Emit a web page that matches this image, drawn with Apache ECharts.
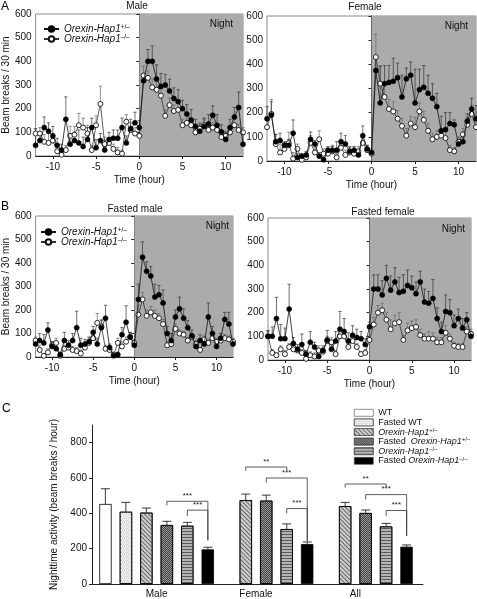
<!DOCTYPE html>
<html><head><meta charset="utf-8">
<script src="https://cdn.jsdelivr.net/npm/echarts@6/dist/echarts.min.js"></script>
<style>html,body{margin:0;padding:0;background:#fff}#c{width:477px;height:599px}</style>
</head><body><div id="c"></div>
<script>
const FONT = '"Liberation Sans", Arial, Helvetica, sans-serif';

// ---------- time-course data (30-min bins, hours relative to lights off) ----------
const times = [-12,-11.5,-11,-10.5,-10,-9.5,-9,-8.5,-8,-7.5,-7,-6.5,-6,-5.5,-5,-4.5,-4,-3.5,-3,-2.5,-2,-1.5,-1,-0.5,0,0.5,1,1.5,2,2.5,3,3.5,4,4.5,5,5.5,6,6.5,7,7.5,8,8.5,9,9.5,10,10.5,11,11.5,12];
const timeTicks = [-10,-5,0,5,10];

// A: Male
const maleHet    = [45,65,120,105,85,45,25,155,50,65, 55,40,70,120,35,65,25,70,75,75, 120,55,115,140,120, 318,400,400,325,294,300,275,243,230,200, 177,152,125,105,125,135,172,130,102,70, 120,165,205,50];
const maleHetErr = [70,30,45,35,40,30,25,95,30,35, 55,40,50,40,35,30,40,30,35,35, 40,30,40,45,30, 30,50,65,60,55,45,50,45,50,35, 40,45,30,30,35,40,40,45,30,30, 35,40,65,40];
const maleKo     = [95,95,60,55,65,20,5,25,85,90, 130,120,95,25,130,220,50,55,30,15, 10,145,110,95,85, 340,330,290,280,255,170,215,190,195,130, 140,130,100,115,130,110,120,110,80,85, 100,130,110,100];
const maleKoErr  = [20,25,30,40,30,20,15,20,40,35, 50,40,35,20,40,75,30,20,20,20, 15,30,30,25,20, 40,30,35,35,30,25,30,25,25,25, 20,25,20,25,25,20,20,20,15,20, 20,25,25,20];
// A: Female
const femHet     = [175,190,80,85,65,65,115,15,20,25, 90,70,20,5,45,45,45,80,70,40, 45,25,105,50,35, 375,240,320,325,330,345,265,340,355,240, 295,305,280,260,225,125,130,155,150,70, 80,165,215,175];
const femHetErr  = [50,55,30,30,15,25,55,15,10,15, 30,15,15,10,15,15,35,35,35,20, 15,15,40,15,15, 55,150,75,70,95,60,90,45,55,140, 85,90,75,60,55,60,70,45,20,20, 20,30,45,55];
const femKo      = [140,195,70,35,50,75,10,50,5,15, 75,35,90,30,30,40,15,55,25,35, 30,40,75,45,30, 430,320,265,215,205,175,145,105,155,140, 205,170,125,90,100,105,95,45,40,80, 110,150,195,140];
const femKoErr   = [40,60,40,35,25,45,25,20,15,15, 30,20,35,20,20,25,15,25,20,20, 15,20,30,20,15, 95,75,60,40,40,35,30,30,30,40, 35,35,30,25,25,25,25,20,15,20, 25,30,35,20];
// B: Fasted male
const fMaleHet    = [55,70,60,115,45,35,10,70,50,70, 125,50,55,65,105,55,125,165,40,5, 10,95,148,85,50, 245,425,365,345,255,265,230,100,70,170, 205,165,125,90,45,70,55,170,100,45, 80,160,140,55];
const fMaleHetErr = [20,30,35,30,20,20,10,35,20,30, 70,30,20,20,25,25,30,55,15,10, 10,30,70,20,15, 65,65,40,40,55,40,55,30,30,30, 50,40,30,25,20,25,25,60,30,20, 20,30,50,15];
const fMaleKo     = [70,30,5,20,50,60,5,35,40,30, 25,15,40,60,80,145,130,35,30,10, 60,45,65,85,60, 180,245,175,190,175,165,140,50,55,120, 100,95,70,85,55,30,75,60,80,65, 70,80,75,65];
const fMaleKoErr  = [15,20,10,15,15,20,10,15,20,15, 15,15,20,20,25,40,30,15,15,10, 20,20,20,20,15, 40,30,25,25,25,20,20,15,15,20, 15,15,15,15,15,10,15,15,15,15, 15,15,15,15];
// B: Fasted female
const fFemHet     = [100,100,175,90,90,215,70,45,65,25, 75,55,15,40,85,45,80,130,120,80, 105,95,90,65,140, 300,300,275,345,295,330,285,290,315,305, 280,330,245,240,260,175,120,205,200,145, 175,135,170,100];
const fFemHetErr  = [25,40,90,60,45,105,25,20,45,15, 45,20,15,20,40,25,40,75,55,35, 40,35,30,25,20, 60,60,60,55,60,60,65,70,65,50, 50,45,55,50,80,45,40,70,55,45, 40,40,30,20];
const fFemKo      = [100,30,20,45,25,55,45,40,30,5, 20,15,40,35,80,75,25,100,100,55, 80,55,25,30,85, 150,200,210,170,130,155,160,85,125,135, 140,105,90,90,90,75,75,115,90,60, 55,55,120,110];
const fFemKoErr   = [20,15,10,15,15,15,20,15,15,10, 15,15,20,15,20,20,15,25,30,20, 20,15,10,15,20, 30,30,30,30,40,35,40,20,30,30, 30,25,20,30,25,20,20,30,20,15, 15,15,20,20];

// ---------- C: nighttime activity ----------
const barCats   = ['Male','Female','All'];
const actTicks  = [0,200,400,600,800];
const wtAct     = [453, null, null];  const wtErr   = [86, null, null];
const fwtAct    = [409, null, null];  const fwtErr  = [53, null, null];
const hetAct    = [404, 475, 441];    const hetErr  = [26, 34, 21];
const fhetAct   = [334, 472, 402];    const fhetErr = [21, 31, 17];
const koAct     = [330, 311, 326];    const koErr   = [19, 29, 17];
const fkoAct    = [196, 226, 211];    const fkoErr  = [12, 12, 10];
// significance brackets: [category, fromBar, toBar, level, leftEnd, rightEnd]
const brackets = [
  [1,3,5,468,444,247],[1,4,5,418,384,247],
  [2,2,4,662,641,641],[2,3,5,600,574,244],[2,4,5,427,399,244],
  [3,2,4,566,546,546],[3,3,5,506,478,272],[3,4,5,416,384,272]
];
const bracketLabels = ['***','***','**','***','***','**','***','***'];

// ---------- option building ----------
const BAR_STEP = 20.5;
function richSup(fs) {
  return {
    i: {fontStyle:'italic', fontSize:fs, fontFamily:FONT, color:'#111', lineHeight:9.6},
    s: {fontSize:fs*0.65, fontFamily:FONT, color:'#111', verticalAlign:'top', lineHeight:9.6}
  };
}
const labelMap = {
  'HET':'{i|Orexin-Hap1}{s|+/–}', 'KO':'{i|Orexin-Hap1}{s|–/–}',
  'WT':'WT', 'Fasted WT':'Fasted WT',
  'Orexin-Hap1 +/–':'{i|Orexin-Hap1}{s|+/–}',
  'Fasted Orexin-Hap1 +/–':'Fasted  {i|Orexin-Hap1}{s|+/–}',
  'Orexin-Hap1 –/–':'{i|Orexin-Hap1}{s|–/–}',
  'Fasted Orexin-Hap1 –/–':'Fasted {i|Orexin-Hap1}{s|–/–}'
};

const panels = [
  {grid:{left:35,top:14,width:208,height:142}, het:maleHet, hetErr:maleHetErr, ko:maleKo, koErr:maleKoErr, yName:true, yGap:23, night:[-5,0]},
  {grid:{left:267,top:16,width:209,height:145}, het:femHet, hetErr:femHetErr, ko:femKo, koErr:femKoErr, yName:false, night:[-3,0]},
  {grid:{left:30,top:216,width:203,height:141}, het:fMaleHet, hetErr:fMaleHetErr, ko:fMaleKo, koErr:fMaleKoErr, yName:true, yGap:20, night:[1,0]},
  {grid:{left:268,top:218,width:203,height:142}, het:fFemHet, hetErr:fFemHetErr, ko:fFemKo, koErr:fFemKoErr, yName:false, night:[-1,1]}
];

function errRenderer(col, half) {
  return function(params, api) {
    const x = api.value(0), y = api.value(1), e = api.value(2);
    const a = api.coord([x, y]), b = api.coord([x, y + e]);
    return {type:'group', children:[
      {type:'line', shape:{x1:a[0],y1:a[1],x2:b[0],y2:b[1]}, style:{stroke:col,lineWidth:0.7}},
      {type:'line', shape:{x1:b[0]-half,y1:b[1],x2:b[0]+half,y2:b[1]}, style:{stroke:col,lineWidth:0.7}}
    ]};
  };
}

const grids = [], xAxes = [], yAxes = [], series = [];
panels.forEach((p, k) => {
  grids.push(Object.assign({show:true, borderColor:'#8a8a8a', borderWidth:1, backgroundColor:'transparent'}, p.grid));
  xAxes.push({type:'value', gridIndex:k, min:-12, max:12,
    name:'Time (hour)', nameLocation:'middle', nameGap:19, nameTextStyle:{fontSize:10, color:'#111', fontFamily:FONT},
    axisLine:{show:true, onZero:false, lineStyle:{color:'#222', width:1}},
    axisTick:{show:true, customValues:timeTicks, length:3, lineStyle:{color:'#222'}},
    axisLabel:{customValues:timeTicks, fontSize:10, color:'#111', margin:6, fontFamily:FONT},
    splitLine:{show:false}});
  yAxes.push({type:'value', gridIndex:k, min:0, max:600, interval:100,
    name: p.yName ? 'Beam breaks / 30 min' : '', nameLocation:'middle', nameGap:p.yGap || 20,
    nameTextStyle:{fontSize:10, color:'#111', fontFamily:FONT},
    axisLine:{show:true, lineStyle:{color:'#222', width:1}},
    axisTick:{show:true, length:3, lineStyle:{color:'#222'}},
    axisLabel:{fontSize:10, color:'#111', margin:4, fontFamily:FONT},
    splitLine:{show:false}});
  series.push({type:'custom', xAxisIndex:k, yAxisIndex:k, z:2, silent:true, clip:false,
    data: times.map((t,i)=>[t, p.ko[i], p.koErr[i]]), renderItem: errRenderer('#666', 1.7)});
  series.push({type:'custom', xAxisIndex:k, yAxisIndex:k, z:2, silent:true, clip:false,
    data: times.map((t,i)=>[t, p.het[i], p.hetErr[i]]), renderItem: errRenderer('#333', 1.7)});
  series.push({type:'line', name:'KO', xAxisIndex:k, yAxisIndex:k, z:3,
    data: times.map((t,i)=>[t, p.ko[i]]), symbol:'circle', symbolSize:5, showAllSymbol:true,
    lineStyle:{color:'#333', width:0.8}, itemStyle:{color:'#fff', borderColor:'#111', borderWidth:0.9},
    emphasis:{disabled:true},
    markArea:{silent:true, itemStyle:{color:'#ababab'},
      label:{show:true, position:'insideTopRight', color:'#111', fontSize:10, fontFamily:FONT, offset:p.night},
      data:[[{name:'Night', xAxis:0},{xAxis:12}]]}});
  series.push({type:'line', name:'HET', xAxisIndex:k, yAxisIndex:k, z:4,
    data: times.map((t,i)=>[t, p.het[i]]), symbol:'circle', symbolSize:5, showAllSymbol:true,
    lineStyle:{color:'#111', width:0.8}, itemStyle:{color:'#000', borderColor:'#000', borderWidth:0.6},
    emphasis:{disabled:true}});
});

// panel C
const kC = 4;
grids.push({left:92, top:425, width:331, height:160, show:false});
xAxes.push({type:'value', gridIndex:kC, min:0.35, max:3.68,
  axisLine:{show:true, onZero:false, lineStyle:{color:'#222', width:1}},
  axisTick:{show:false},
  axisLabel:{customValues:[1,2,3], formatter: v => barCats[Math.round(v)-1] || '', fontSize:10, color:'#111', margin:5, fontFamily:FONT},
  splitLine:{show:false}});
yAxes.push({type:'value', gridIndex:kC, min:0, max:900,
  name:'Nighttime activity (beam breaks / hour)', nameLocation:'middle', nameGap:33,
  nameTextStyle:{fontSize:10, color:'#111', fontFamily:FONT},
  axisLine:{show:true, lineStyle:{color:'#222', width:1}},
  axisTick:{show:true, customValues:actTicks, length:3, lineStyle:{color:'#222'}},
  axisLabel:{customValues:actTicks, fontSize:10, color:'#111', margin:5, fontFamily:FONT},
  splitLine:{show:false}});

const barDefs = [
  {name:'WT', vals:wtAct, errs:wtErr, color:'#ffffff'},
  {name:'Fasted WT', vals:fwtAct, errs:fwtErr, color:'#ececec',
    decal:{symbol:'rect', symbolSize:1, dashArrayX:[[1,1],[0,1,1,0]], dashArrayY:[1,1], color:'#d2d2d2'}},
  {name:'Orexin-Hap1 +/–', vals:hetAct, errs:hetErr, color:'#cfcfcf',
    decal:{symbol:'rect', symbolSize:1, dashArrayX:[1,0], dashArrayY:[1,1.8], rotation:Math.PI/4, color:'#666'}},
  {name:'Fasted Orexin-Hap1 +/–', vals:fhetAct, errs:fhetErr, color:'#9c9c9c',
    decal:{symbol:'rect', symbolSize:1, dashArrayX:[[1,1],[0,1,1,0]], dashArrayY:[1,0], color:'#3c3c3c'}},
  {name:'Orexin-Hap1 –/–', vals:koAct, errs:koErr, color:'#b4b4b4',
    decal:{symbol:'rect', symbolSize:1, dashArrayX:[1,0], dashArrayY:[1,1.3], color:'#5a5a5a'}},
  {name:'Fasted Orexin-Hap1 –/–', vals:fkoAct, errs:fkoErr, color:'#000000'}
];
barDefs.forEach((b, idx) => {
  const data = [];
  b.vals.forEach((v, c) => { if (v !== null) data.push([c+1, v]); });
  const is = {color:b.color, borderColor:'#000', borderWidth:0.8};
  if (b.decal) is.decal = b.decal;
  series.push({type:'bar', name:b.name, xAxisIndex:kC, yAxisIndex:kC, data:data,
    barWidth:12.4, barGap:'65%', itemStyle:is, emphasis:{disabled:true}, z:2});
});
// bar error bars
const barErrData = [];
barDefs.forEach((b, idx) => {
  b.vals.forEach((v, c) => { if (v !== null) barErrData.push([c+1, v, b.errs[c], idx]); });
});
series.push({type:'custom', xAxisIndex:kC, yAxisIndex:kC, z:3, silent:true, clip:false, data:barErrData,
  renderItem: function(params, api) {
    const x = api.value(0), y = api.value(1), e = api.value(2), i = api.value(3);
    const a = api.coord([x, y]), b = api.coord([x, y + e]);
    const px = a[0] + (i - 2.5) * BAR_STEP;
    return {type:'group', children:[
      {type:'line', shape:{x1:px,y1:a[1],x2:px,y2:b[1]}, style:{stroke:'#222',lineWidth:0.9}},
      {type:'line', shape:{x1:px-4.5,y1:b[1],x2:px+4.5,y2:b[1]}, style:{stroke:'#222',lineWidth:0.9}}
    ]};
  }});
// significance brackets
series.push({type:'custom', xAxisIndex:kC, yAxisIndex:kC, z:4, silent:true, clip:false, data:brackets,
  renderItem: function(params, api) {
    const c = api.value(0), f = api.value(1), t = api.value(2), lv = api.value(3), le = api.value(4), re = api.value(5);
    const p = api.coord([c, lv]);
    const xl = p[0] + (f - 2.5) * BAR_STEP, xr = p[0] + (t - 2.5) * BAR_STEP;
    const yl = api.coord([c, le])[1], yr = api.coord([c, re])[1];
    return {type:'group', children:[
      {type:'polyline', shape:{points:[[xl,yl],[xl,p[1]],[xr,p[1]],[xr,yr]]}, style:{stroke:'#333', lineWidth:0.8, fill:null}},
      {type:'text', style:{text:bracketLabels[params.dataIndex], x:(xl+xr)/2, y:p[1]-1.5, align:'center', verticalAlign:'bottom', fontSize:8, fontFamily:FONT, fill:'#222'}}
    ]};
  }});

const lineLegendBase = {orient:'vertical', selectedMode:false, itemWidth:15, itemHeight:7, itemGap:0,
  data:['HET','KO'], formatter: n => labelMap[n],
  textStyle:{fontSize:10, color:'#111', fontFamily:FONT, lineHeight:9.6, rich:richSup(10)}};

const option = {
  animation:false,
  backgroundColor:'#fff',
  textStyle:{fontFamily:FONT},
  grid:grids, xAxis:xAxes, yAxis:yAxes, series:series,
  legend:[
    Object.assign({left:38, top:19}, lineLegendBase),
    Object.assign({left:35, top:222}, lineLegendBase),
    {orient:'vertical', selectedMode:false, left:349, top:403, itemWidth:19, itemHeight:7, itemGap:0, icon:'rect',
     itemStyle:{borderWidth:0.6, borderColor:'#444'},
     data:barDefs.map(b=>b.name), formatter: n => labelMap[n],
     textStyle:{fontSize:9, color:'#111', fontFamily:FONT, lineHeight:9.6, rich:richSup(9)}}
  ],
  graphic:[
    {type:'text', x:1, y:1, style:{text:'A', fontSize:12, fontFamily:FONT, fill:'#000'}},
    {type:'text', x:1, y:201, style:{text:'B', fontSize:12, fontFamily:FONT, fill:'#000'}},
    {type:'text', x:2, y:403, style:{text:'C', fontSize:12, fontFamily:FONT, fill:'#000'}},
    {type:'text', x:137, y:6, style:{text:'Male', fontSize:10, fontFamily:FONT, fill:'#111', align:'center', verticalAlign:'middle'}},
    {type:'text', x:365, y:7, style:{text:'Female', fontSize:10, fontFamily:FONT, fill:'#111', align:'center', verticalAlign:'middle'}},
    {type:'text', x:135, y:209, style:{text:'Fasted male', fontSize:10, fontFamily:FONT, fill:'#111', align:'center', verticalAlign:'middle'}},
    {type:'text', x:383, y:212, style:{text:'Fasted female', fontSize:10, fontFamily:FONT, fill:'#111', align:'center', verticalAlign:'middle'}}
  ]
};
const chart = echarts.init(document.getElementById('c'), null, {renderer:'canvas'});
chart.setOption(option);
</script></body></html>
